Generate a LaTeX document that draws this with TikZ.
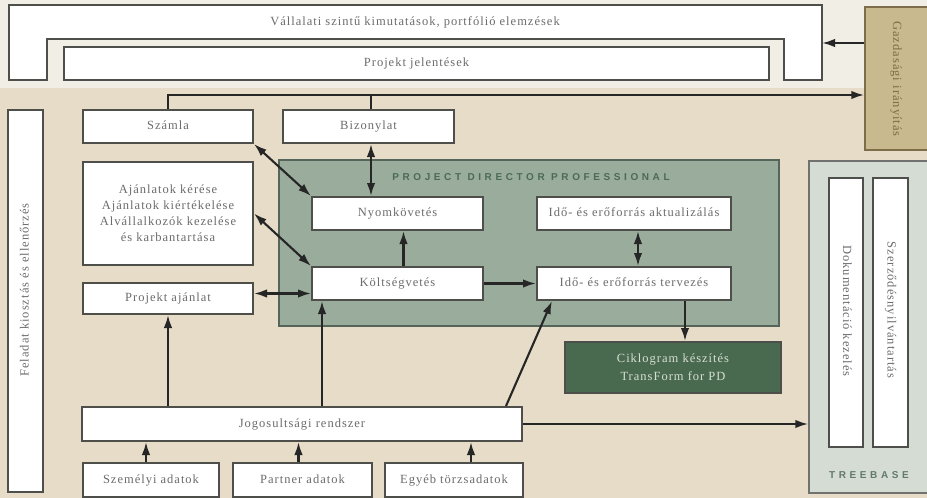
\documentclass[tikz,border=0pt]{standalone}
\usepackage{fontspec}
\setmainfont[LetterSpace=8]{Liberation Serif}
\newfontfamily\titlefont[LetterSpace=36]{Liberation Sans}
\usepackage{xcolor}
\usepackage{tikz}
\usetikzlibrary{arrows.meta}

\definecolor{topbg}{HTML}{F1EEE6}
\definecolor{tanbg}{HTML}{E6DCC7}
\definecolor{boxline}{HTML}{4E4E4B}
\definecolor{boxtext}{HTML}{6C6C6C}
\definecolor{pdpfill}{HTML}{9AAC9C}
\definecolor{pdpline}{HTML}{55655A}
\definecolor{pdptext}{HTML}{4B6B55}
\definecolor{ciklofill}{HTML}{4A6A50}
\definecolor{ciklotext}{HTML}{D5DFD2}
\definecolor{treefill}{HTML}{D5DCD4}
\definecolor{treetext}{HTML}{62796C}
\definecolor{gazdfill}{HTML}{C8B98E}
\definecolor{gazdtext}{HTML}{7D6D48}

\begin{document}
\begin{tikzpicture}[x=1pt, y=-1pt,
    box/.style={draw=boxline, line width=2pt, fill=white, text=boxtext, inner sep=0pt,
        font=\fontsize{12.5}{16}\selectfont, align=center},
    one/.style={text height=8.5pt, text depth=2.5pt},
    arr/.style={line width=2.1pt, draw=black!85, -{Latex[length=13pt,width=8.5pt]}},
    darr/.style={arr, {Latex[length=13pt,width=8.5pt]}-{Latex[length=13pt,width=8.5pt]}},
    spaced/.style={font=\titlefont\bfseries\fontsize{10}{12}\selectfont}]
            \useasboundingbox (0,0) rectangle (927,498);
            % background
            \fill[tanbg] (0,0) rectangle (927,498);
            \fill[topbg] (0,0) rectangle (927,88);

            % Vallalati szintu kimutatasok
            \filldraw[fill=white, draw=boxline, line width=2pt] (9,80) -- (9,5) -- (822,5) -- (822,80)
                -- (784,80) -- (784,39) -- (47,39) -- (47,80) -- cycle;
            \node[one, text=boxtext, font=\fontsize{12.5}{16}\selectfont] (vallalati) at (415,22) {Vállalati szintű kimutatások, portfólió elemzések};
            \coordinate (vallalatiR) at (822,43);
            \node[box, one, minimum width=705, minimum height=33] (jelentes) at (416.5,63.5) {Projekt jelentések};

            % Gazdasagi iranyitas
            \node[draw=gazdtext, line width=1.5pt, fill=gazdfill, minimum width=65, minimum height=143] (gazd) at (897.5,78.5) {};
            \node[rotate=-90, one, text=gazdtext, font=\fontsize{12.5}{16}\selectfont] (gazdtxt) at (896,79) {Gazdasági irányítás};

            % Szamla, Bizonylat
            \node[box, one, minimum width=170, minimum height=33] (szamla) at (168,126.5) {Számla};
            \node[box, one, minimum width=171, minimum height=33] (bizonylat) at (368.5,126.5) {Bizonylat};
            \coordinate (bus) at (371,95);

            % left column
            \node[box, minimum width=35, minimum height=382] (feladat) at (25.5,301) {};
            \node[rotate=90, one, text=boxtext, font=\fontsize{12.5}{16}\selectfont] (feladattxt) at (25.5,290) {Feladat kiosztás és ellenőrzés};
            \node[box, minimum width=170, minimum height=103] (ajanlatok) at (168,213.5)
                {Ajánlatok kérése\\Ajánlatok kiértékelése\\Alvállalkozók kezelése\\és karbantartása};
            \node[box, one, minimum width=170, minimum height=31] (pajanlat) at (168,298.5) {Projekt ajánlat};

            % Project Director Professional
            \node[draw=pdpline, line width=1.5pt, fill=pdpfill, minimum width=500, minimum height=166] (pdp) at (529,243) {};
            \node[spaced, text=pdptext] (pdptitle) at (531,177) {PROJECT DIRECTOR PROFESSIONAL};
            \node[box, one, minimum width=171, minimum height=33] (nyom) at (397.5,213.5) {Nyomkövetés};
            \node[box, one, minimum width=194, minimum height=33] (aktual) at (634,213.5) {Idő- és erőforrás aktualizálás};
            \node[box, one, minimum width=171, minimum height=33] (koltseg) at (397.5,283.5) {Költségvetés};
            \node[box, one, minimum width=194, minimum height=33] (tervez) at (634,283.5) {Idő- és erőforrás tervezés};

            % Ciklogram
            \node[box, fill=ciklofill, text=ciklotext, minimum width=216, minimum height=51, font=\fontsize{12.5}{18}\selectfont] (ciklo) at (673,367.5)
                {Ciklogram készítés\\TransForm for PD};

            % Jogosultsagi rendszer and master data
            \node[box, one, minimum width=440, minimum height=34] (jog) at (302,424) {Jogosultsági rendszer};
            \node[box, one, minimum width=136, minimum height=34] (szemelyi) at (151,480) {Személyi adatok};
            \node[box, one, minimum width=139, minimum height=34] (partner) at (302.5,480) {Partner adatok};
            \node[box, one, minimum width=138, minimum height=34] (egyeb) at (454,480) {Egyéb törzsadatok};

            % Treebase
            \node[draw=boxline!80, line width=1.5pt, fill=treefill, minimum width=126, minimum height=332] (tree) at (872,327) {};
            \node[box, minimum width=34, minimum height=269] (dok) at (846,312.5) {};
            \node[rotate=-90, one, text=boxtext, font=\fontsize{12.5}{16}\selectfont] (doktxt) at (846,311) {Dokumentáció kezelés};
            \node[box, minimum width=35, minimum height=269] (szerz) at (890.5,312.5) {};
            \node[rotate=-90, one, text=boxtext, font=\fontsize{12.5}{16}\selectfont] (szerztxt) at (890.5,310) {Szerződésnyilvántartás};
            \node[spaced, text=treetext] (treetitle) at (869,475) {TREEBASE};

            % connectors
            \draw[arr] (gazd.west |- vallalatiR) -- (vallalatiR);
            \draw[arr] (szamla.north) |- (gazd.west |- bus);
            \draw[line width=2.1pt, draw=black!85] (bizonylat.north -| bus) -- (bus);
            \draw[darr] (szamla.south east) -- (nyom.north west);
            \draw[darr] (bizonylat.south -| bus) -- (nyom.north -| bus);
            \draw[darr] (ajanlatok.east) -- (koltseg.north west);
            \draw[darr] ([yshift=5pt]pajanlat.east) -- ([yshift=5pt]pajanlat.east -| koltseg.west);
            \draw[arr] ([xshift=6pt]koltseg.north) -- ([xshift=6pt]nyom.south);
            \draw[arr] (koltseg.east) -- (tervez.west);
            \draw[darr] ([xshift=4pt]tervez.north) -- ([xshift=4pt]aktual.south);
            \draw[arr] ([xshift=51pt]tervez.south) -- ([xshift=51pt]tervez.south |- ciklo.north);
            \draw[arr] (pajanlat.south |- jog.north) -- (pajanlat.south);
            \draw[arr] ([xshift=11pt]koltseg.south west |- jog.north) -- ([xshift=11pt]koltseg.south west);
            \draw[arr] ([xshift=-17pt]jog.north east) -- ([xshift=16pt]tervez.south west);
            \draw[arr] (jog.east) -- (jog.east -| tree.west);
            \draw[arr] ([xshift=-5pt]szemelyi.north) -- ([xshift=-5pt]szemelyi.north |- jog.south);
            \draw[arr] ([xshift=-4pt]partner.north) -- ([xshift=-4pt]partner.north |- jog.south);
            \draw[arr] ([xshift=17pt]egyeb.north) -- ([xshift=17pt]egyeb.north |- jog.south);
\end{tikzpicture}
\end{document}
